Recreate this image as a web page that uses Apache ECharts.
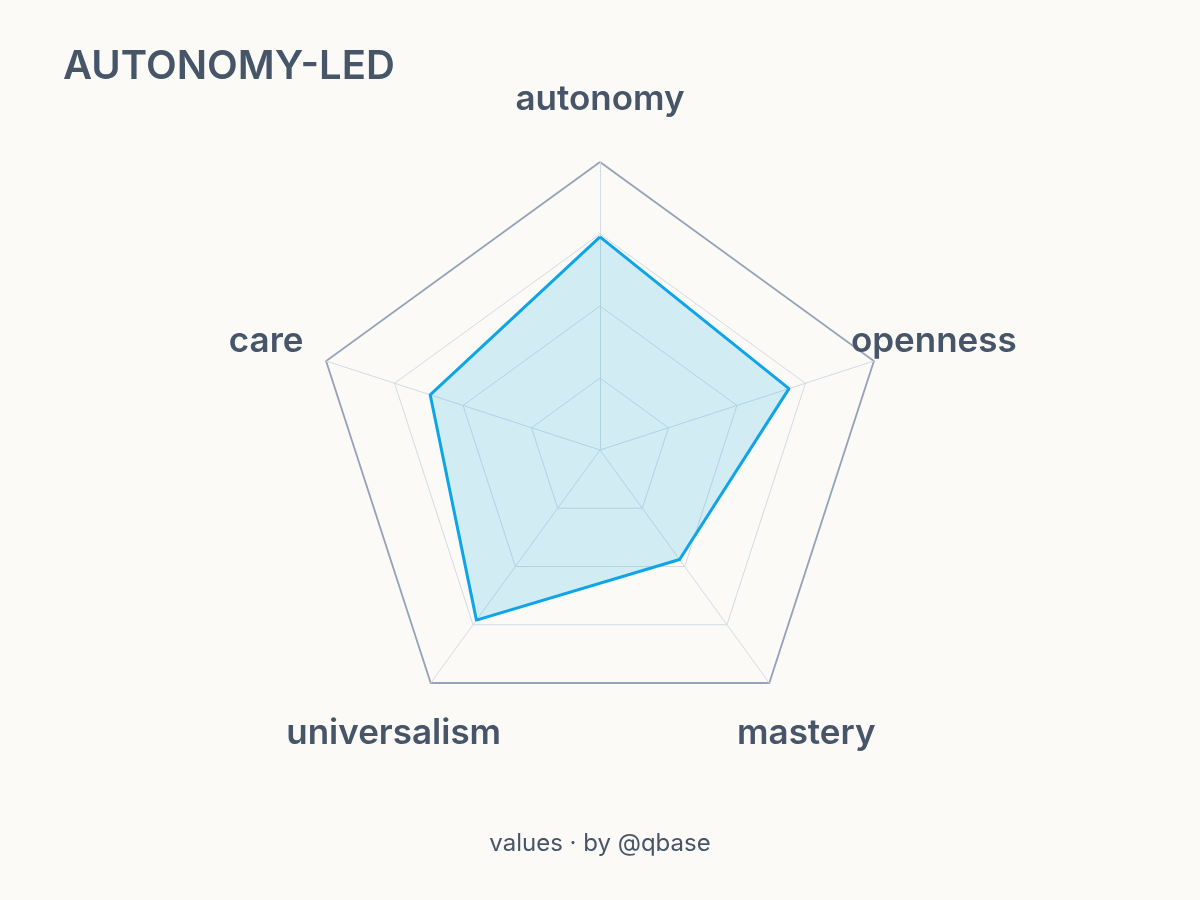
<!DOCTYPE html>
<html><head><meta charset="utf-8">
<script src="https://cdn.jsdelivr.net/npm/echarts@6/dist/echarts.min.js"></script>
<style>html,body{margin:0;padding:0;background:#fbfaf7}#c{width:1200px;height:900px}</style>
</head><body><div id="c"></div>
<script>
// ECharts radar lays indicators out counter-clockwise from the top
const indicatorNames = ['autonomy', 'care', 'universalism', 'mastery', 'openness'];
const indicatorValues = [74, 62, 73, 47, 69];
const maxValue = 100;
const titleText = 'AUTONOMY-LED';
const footerText = 'values \u00b7 by @qbase';

const FONT = 'Inter, "Noto Sans", sans-serif';
const TEXT = '#475569';
const chart = echarts.init(document.getElementById('c'), null, {renderer: 'canvas'});
const indicator = indicatorNames.map(n => ({name: n, max: maxValue, min: 0}));
chart.setOption({
  backgroundColor: '#fbfaf7',
  animation: false,
  title: [{
    text: titleText, left: 58, top: 42,
    textStyle: {fontFamily: FONT, fontSize: 40, fontWeight: 600, color: TEXT, letterSpacing: 3}
  }, {
    text: footerText, left: 'center', top: 827,
    textStyle: {fontFamily: FONT, fontSize: 24, fontWeight: 400, color: TEXT}
  }],
  radar: [{
    center: [600, 450], radius: 288, startAngle: 90, splitNumber: 4, shape: 'polygon',
    indicator: indicator,
    nameGap: 63,
    axisName: {fontFamily: FONT, fontSize: 35, fontWeight: 600, color: TEXT, align: 'center', verticalAlign: 'middle'},
    axisLine: {lineStyle: {color: '#d3dbe5', width: 1}},
    splitLine: {lineStyle: {color: ['#d3dbe5', '#d3dbe5', '#d3dbe5', '#d3dbe5', 'rgba(0,0,0,0)'], width: 1}},
    splitArea: {show: false},
    axisTick: {show: false}, axisLabel: {show: false}
  }, {
    center: [600, 450], radius: 288, startAngle: 90, splitNumber: 1, shape: 'polygon',
    indicator: indicator,
    axisName: {show: false},
    axisLine: {show: false},
    splitLine: {lineStyle: {color: '#94a3b8', width: 1.8}},
    splitArea: {show: false},
    axisTick: {show: false}, axisLabel: {show: false}
  }],
  series: [{
    type: 'radar', radarIndex: 0, symbol: 'none',
    lineStyle: {color: '#0ea5e9', width: 3},
    areaStyle: {color: 'rgba(14,165,233,0.24)'},
    data: [{value: indicatorValues, name: 'autonomy-led'}]
  }]
});
</script></body></html>
